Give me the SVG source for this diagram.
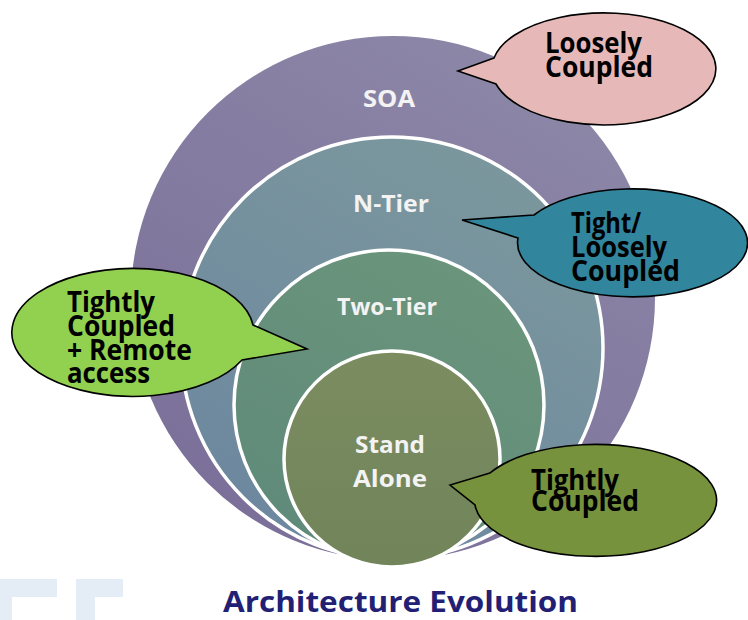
<svg xmlns="http://www.w3.org/2000/svg" width="748" height="620" viewBox="0 0 748 620">
<defs>
<style>
.lbl{font-family:"Open Sans","Liberation Sans",sans-serif;font-weight:bold;font-size:23px;fill:#f3f3f3}
.co{font-family:"Open Sans","Liberation Sans",sans-serif;font-weight:bold;font-size:28px;fill:#000}
.bub{stroke:#000;stroke-width:1.6;stroke-linejoin:miter}
.ring{stroke:#fff;stroke-width:3.5}
.wm{fill:#e4ecf5}
</style>
<linearGradient id="gSoa" x1="0.8" y1="0" x2="0.2" y2="1">
<stop offset="0" stop-color="#8d88a8"/><stop offset="1" stop-color="#7a6e98"/>
</linearGradient>
<linearGradient id="gN" x1="0.8" y1="0" x2="0.2" y2="1">
<stop offset="0" stop-color="#7c989d"/><stop offset="1" stop-color="#6c879f"/>
</linearGradient>
<linearGradient id="gT" x1="0.8" y1="0" x2="0.2" y2="1">
<stop offset="0" stop-color="#6b957b"/><stop offset="1" stop-color="#5f8a7a"/>
</linearGradient>
<linearGradient id="gS" x1="0.5" y1="0" x2="0.5" y2="1">
<stop offset="0" stop-color="#7b8c60"/><stop offset="1" stop-color="#71845a"/>
</linearGradient>
</defs>
<rect width="748" height="620" fill="#fff"/>
<g id="watermark">
<path class="wm" d="M0,579 H57 V597 H12 V620 H0 Z"/>
<path class="wm" d="M76,579 H123 V597 H95 V620 H76 Z"/>
</g>
<g id="soa">
<circle cx="393" cy="298" r="262" fill="url(#gSoa)"/>
<text class="lbl" x="389" y="107" text-anchor="middle" textLength="52" lengthAdjust="spacingAndGlyphs">SOA</text>
</g>
<g id="ntier">
<circle class="ring" cx="392" cy="348" r="211" fill="url(#gN)"/>
<text class="lbl" x="391" y="212" text-anchor="middle" textLength="76" lengthAdjust="spacingAndGlyphs">N-Tier</text>
</g>
<g id="twotier">
<circle class="ring" cx="389" cy="405" r="155" fill="url(#gT)"/>
<text class="lbl" x="387" y="315" text-anchor="middle" textLength="100" lengthAdjust="spacingAndGlyphs">Two-Tier</text>
</g>
<g id="standalone">
<circle class="ring" cx="392" cy="459" r="108" fill="url(#gS)"/>
<text class="lbl" x="390" y="453" text-anchor="middle" textLength="70" lengthAdjust="spacingAndGlyphs">Stand</text>
<text class="lbl" x="390" y="487" text-anchor="middle" textLength="74" lengthAdjust="spacingAndGlyphs">Alone</text>
</g>
<g id="connectors"></g>
<g id="callout-loosely">
<path class="bub" fill="#e6b9b8" d="M494,58 L458,71 L496,84 A112,56 0 1 0 494,58 Z"/>
<text class="co" x="545" y="53" textLength="97" lengthAdjust="spacingAndGlyphs">Loosely</text>
<text class="co" x="545" y="77" textLength="108" lengthAdjust="spacingAndGlyphs">Coupled</text>
</g>
<g id="callout-tight-loosely">
<path class="bub" fill="#31859c" d="M534,215 L462,220 L518,238 A115,54 0 1 0 534,215 Z"/>
<text class="co" x="571" y="233" textLength="70" lengthAdjust="spacingAndGlyphs">Tight/</text>
<text class="co" x="571" y="257" textLength="96" lengthAdjust="spacingAndGlyphs">Loosely</text>
<text class="co" x="571" y="281" textLength="109" lengthAdjust="spacingAndGlyphs">Coupled</text>
</g>
<g id="callout-remote">
<path class="bub" fill="#92d050" d="M253,325 L307,349 L242,360 A121,64 0 1 1 253,325 Z"/>
<text class="co" x="67" y="312" textLength="88" lengthAdjust="spacingAndGlyphs">Tightly</text>
<text class="co" x="67" y="336" textLength="108" lengthAdjust="spacingAndGlyphs">Coupled</text>
<text class="co" x="67" y="360" textLength="125" lengthAdjust="spacingAndGlyphs">+ Remote</text>
<text class="co" x="67" y="383" textLength="83" lengthAdjust="spacingAndGlyphs">access</text>
</g>
<g id="callout-tightly">
<path class="bub" fill="#76923c" d="M490,473 L450,485 L475,505 A121,56 0 1 0 490,473 Z"/>
<text class="co" x="531" y="490" textLength="88" lengthAdjust="spacingAndGlyphs">Tightly</text>
<text class="co" x="531" y="511" textLength="108" lengthAdjust="spacingAndGlyphs">Coupled</text>
</g>
<g id="title">
<text x="223" y="612" font-family="'Open Sans','Liberation Sans',sans-serif" font-weight="bold" font-size="28" fill="#221f74" textLength="355" lengthAdjust="spacingAndGlyphs">Architecture Evolution</text>
</g>
</svg>
